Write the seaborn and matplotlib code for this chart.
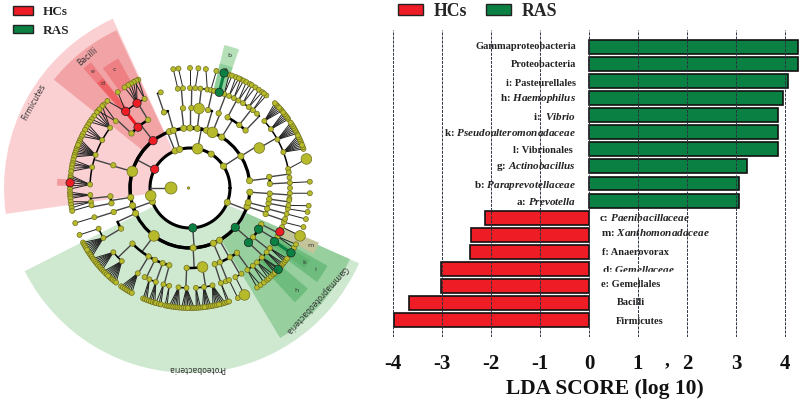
import numpy as np
import pandas as pd
import matplotlib
matplotlib.use("Agg")
import matplotlib.pyplot as plt
from matplotlib.patches import Patch, Rectangle
import seaborn as sns

# ---------- LDA bars ----------
taxa = ["Gammaproteobacteria", "Proteobacteria", "i: Pasteurellales", r"h: $\mathit{Haemophilus}$",
        r"i:  $\mathit{Vibrio}$", r"k: $\mathit{Pseudoalteromonadaceae}$", "l: Vibrionales ",
        r"g: $\mathit{Actinobacillus}$", r"b: $\mathit{Paraprevotellaceae}$", r"a: $\mathit{Prevotella}$",
        r"c: $\mathit{Paenibacillaceae}$", r"m: $\mathit{Xanthomonadaceae}$", "f: Anaerovorax",
        r"d: $\mathit{Gemellaceae}$", "e: Gemellales", "Bacilli", "Firmicutes"]
lda = [4.27, 4.26, 4.07, 3.95, 3.86, 3.85, 3.85, 3.22, 3.07, 3.07,
       -2.12, -2.40, -2.42, -3.03, -3.03, -3.67, -3.98]
group = ["RAS"] * 10 + ["HCs"] * 7
neg_label_x = [0.21, 0.24, 0.27, 0.27, 0.25, 0.57, 0.54]
label_shift_rows = [-0.06, 0, 0.12, 0, 0.06, 0, 0.06, 0.03, 0.14, 0.08, -0.03, -0.1, 0.02, 0.07, -0.05, 0, 0.1]
score_ticks = [-4, -3, -2, -1, 0, 1, 2, 3, 4]

# ---------- cladogram (angles in degrees) ----------
ring = {1: 40, 2: 60, 3: 80, 4: 100, 5: 120}
L1 = [152, 112, 105, 79, 58, 33, 339, 274, 200, 191]
L2 = [(152, [128, 164, 189]), (105, [106]), (112, [110]), (79, [96, 90, 83, 74, 68]),
      (33, [58, 32, 7, 356]), (339, [342, 346]), (274, [233, 273, 293, 299.5, 319]),
      (200, [197, 205])]
L3 = [(128, [121.6, 130.5, 137]), (164, [163.5]), (189, [186, 191]), (197, [197.5]), (205, [210.5]),
      (106, [109]), (96, [95]), (90, [89]), (83, [83.5]), (74, [77]), (68, [69]),
      (58, [62, 52, 46]), (32, [30]), (7, [8, 3]), (356, [356, 352]), (342, [341, 345]), (346, [349]),
      (233, [224, 238.8, 244, 250, 255]), (273, [267.6, 279]), (293, [288]), (299.5, [292, 300, 306]),
      (319, [317, 322, 329, 333])]
L4 = [(130.5, [130, 122]), (121.6, [117]), (137, [138]), (163.5, [143, 151.4, 160.7, 168, 178]),
      (186, [184, 188]), (191, [190]), (197.5, [197]), (210.5, [204, 210]),
      (109, [107]), (95, [97, 94]), (89, [90, 87]), (83.5, [84, 80]), (77, [78, 76]), (69, [73, 70]),
      (62, [67, 64, 61]), (52, [58, 54, 51]), (46, [48]), (30, [42, 36, 29, 21, 11]), (8, [9, 6]), (3, [3, 0]),
      (356, [357, 354]), (352, [353]), (341, [340, 342]), (345, [345]), (349, [348, 350]),
      (224, [220, 227]), (238.8, [238.5]), (244, [243]), (250, [246, 250]), (255, [254.6, 258]),
      (267.6, [263.4, 268]), (279, [273.4, 278, 283]), (288, [288, 291]), (292, [293]), (300, [297, 301]),
      (306, [305, 309]), (317, [312, 316, 320]), (322, [323]), (329, [327.6, 331]), (333, [334, 337])]
L5 = [(130, [133.5, 127]), (122, [116.5, 118, 119.5, 121, 123]), (117, [115.5, 117.5]), (138, [136, 140]),
      (143, [137, 139, 141, 143, 145, 146.5]), (151.4, [148, 149.5, 151, 153, 154.5]),
      (160.7, [156, 157, 158, 159, 160, 161, 162, 163, 164, 165]), (168, [166.5, 168, 169, 170.5, 172]),
      (178, [174, 175, 176, 177.5, 179, 180.5]), (184, [182, 183, 184, 185]), (188, [186.5, 188, 189.5]),
      (190, [191]), (197, [197]), (204, [203]), (210, [207, 208, 209, 210, 211, 212, 213, 214, 215]),
      (220, [216, 217, 218, 219, 220, 221, 222, 223]), (227, [224, 225, 226, 227, 228, 229, 230, 231, 232]),
      (238.5, [235, 236, 237, 238, 239, 240, 241]), (246, [247, 248, 249]),
      (250, [250, 251, 252, 253]), (254.6, [253.5, 255, 256]), (258, [258, 259]),
      (263.4, [260, 261, 262, 263, 264, 265]), (268, [266, 267, 268, 269, 270, 271, 272]),
      (273.4, [273, 274, 275]), (278, [276, 277, 278, 279, 280]), (283, [281, 282, 283, 284, 285, 286, 287]),
      (288, [288, 289]), (293, [293.5]), (297, [297]), (305, [304, 306]), (309, [308, 310]),
      (312, [311, 312.5, 314]), (316, [315, 316, 317.3, 318]),
      (320, [319, 320, 321]), (323, [322, 323, 324]), (327.6, [327.3]), (331, [330, 332]),
      (337, [336.5]), (340, [341]), (345, [345]), (348, [348.5]),
      (350, [351.5]), (357, [357.5]), (3, [3]), (42, [40, 41, 42, 43, 44, 45]), (36, [35, 36, 37, 38, 39]),
      (29, [27, 28, 29, 30, 31, 32, 33]), (21, [19, 20, 21, 22, 23, 24, 25, 26]), (11, [14]),
      (67, [67.5, 66]), (64, [65, 63.5]), (61, [62, 60]), (58, [59, 57]), (54, [55, 53]), (51, [52, 50.5]),
      (97, [98]), (94, [95.5]), (90, [90]), (87, [86]), (80, [82.4]), (78, [77.3]), (73, [73.5]), (70, [71, 69.5])]
red_nodes = [(1, 152), (2, 128), (3, 130.5), (4, 130), (4, 122), (5, 177.5), (4, 334)]
green_nodes = [(1, 274), (2, 319), (3, 317), (3, 329), (4, 327.6), (4, 73), (5, 73.5), (5, 327.3), (5, 317.3)]
big_nodes = [(1, 79), (1, 191), (2, 68), (3, 83.5), (3, 279), (3, 30), (5, 14), (2, 164), (2, 233), (5, 297), (5, 336.5)]
red_edges = [(3, 130.5, 4, 130)]
green_edges = [(4, 73, 5, 73.5), (4, 327.6, 5, 327.3)]

clade_names = ["Firmicutes", "Proteobacteria", "Bacilli", "Gammaproteobacteria"]
clade_from = [114.5, 206.7, 115, 301]
clade_to = [188, 336, 141.5, 336]
clade_inner = [40, 40, 60, 62]
clade_outer = [186, 185, 174, 175]
clade_colour = ["#fbd0d3", "#cfe8d0", "#f2a3a6", "#98cf9f"]
clade_label_theta = [151, 272, 128, 318.5]
clade_label_r = [178, 181, 167, 169]
clade_label_rot = [61, 180, 40, 228]

small_names = ["c", "e", "d", "", "b", "a", "m", "i", "k", "h", "l"]
small_mid = [122.5, 130, 130, 177.5, 73.5, 73.5, 334.5, 327, 327, 316, 316]
small_width = [7, 3.5, 3, 3, 6, 6, 5, 7, 4, 7, 4]
small_inner = [118, 100, 100, 120, 118, 100, 103, 100, 100, 100, 100]
small_outer = [148, 160, 140, 133, 147, 128, 140, 158, 140, 155, 125]
small_colour = ["#ee7f82", "#ee7f82", "#ee6064", "#f29a9c", "#b5e0b8", "#8fd09a", "#c3c49a", "#6fbd7e", "#5fb470", "#6fbd7e", "#5fb470"]
small_label_r = [140, 152, 136, 0, 138, 124, 134, 150, 136, 148, 120]

core_r = [19, 1.5]

RED, GREEN, OLIVE = "#ee1c25", "#0a8143", "#b7ba2b"

sns.set_theme(style="white")
plt.rcParams["font.family"] = ["Liberation Serif", "DejaVu Serif"]
plt.rcParams["axes.unicode_minus"] = False
plt.rcParams["mathtext.fontset"] = "custom"
plt.rcParams["mathtext.rm"] = "Liberation Serif:bold"
plt.rcParams["mathtext.it"] = "Liberation Serif:italic:bold"
plt.rcParams["mathtext.bf"] = "Liberation Serif:bold"

W, H = 800, 404
fig = plt.figure(figsize=(W / 100, H / 100), dpi=100, facecolor="white")

# ---------- bar panel ----------
ax = fig.add_axes([380 / W, 1 - 337 / H, 420 / W, 307 / H])
df = pd.DataFrame({"taxon": taxa, "score": lda, "group": group})
sns.barplot(data=df, x="score", y="taxon", hue="group", dodge=False, palette={"RAS": GREEN, "HCs": RED},
            saturation=1, width=0.82, edgecolor="#111111", linewidth=1.2, legend=False, ax=ax)
ax.set_xlim((380 - 589) / 49, (800 - 589) / 49)
ax.set_ylim(17, -1)
sns.despine(ax=ax, left=True, bottom=True, top=True, right=True)
ax.set_axisbelow(False)
ax.grid(axis="x", color="#2b3440", lw=0.7, ls=(0, (3, 1.2)))
ax.grid(axis="y", visible=False)
ax.set_yticks([])
ax.set_ylabel("")
ax.set_xticks(score_ticks)
ax.tick_params(axis="x", length=0, pad=12)
for t in ax.get_xticklabels():
    t.set_fontsize(15)
    t.set_fontweight("bold")
    t.set_color("#111111")
ax.set_xlabel("LDA SCORE (log 10)", fontsize=15.5, fontweight="bold", color="#111111")
ax.xaxis.set_label_coords((605 - 380) / 420, -(389 - 337) / 307)
ax.xaxis.label.set_va("center")
ax.text(1.59, 18.65, ",", fontsize=14, fontweight="bold", ha="center", va="baseline", color="#111111", clip_on=False)

for i, (name, val) in enumerate(zip(taxa, lda)):
    size = 8.0 if "mathit" in name else 7.5
    y = i + label_shift_rows[i]
    if val > 0:
        ax.text(-0.27, y, name, ha="right", va="center", fontsize=size, fontweight="bold", color="#222222", zorder=5)
    else:
        ax.text(neg_label_x[i - 10], y, name, ha="left", va="center", fontsize=size, fontweight="bold",
                color="#222222", zorder=5)
ax.add_patch(Rectangle((0.2, 13.2), 1.75, 0.25, color="white", zorder=6))

# ---------- cladogram panel ----------
pol = fig.add_axes([0, (H - 378) / H, 380 / W, 380 / H], projection="polar")
pol.set_rlim(0, 190)
pol.axis("off")
rad = np.deg2rad

for a, b, ri, ro, c in zip(clade_from, clade_to, clade_inner, clade_outer, clade_colour):
    pol.bar(rad((a + b) / 2), ro - ri, width=rad(b - a), bottom=ri, color=c, lw=0, zorder=1)
for m, w, ri, ro, c in zip(small_mid, small_width, small_inner, small_outer, small_colour):
    pol.bar(rad(m), ro - ri, width=rad(w), bottom=ri, color=c, lw=0, zorder=1.2)

sans = ["DejaVu Sans"]
for n, th, r, rot in zip(clade_names, clade_label_theta, clade_label_r, clade_label_rot):
    pol.text(rad(th), r, n, rotation=rot, rotation_mode="anchor", ha="center", va="center",
             fontsize=5.6, color="#333333", family=sans, zorder=6)
for n, th, r in zip(small_names, small_mid, small_label_r):
    pol.text(rad(th), r, n, ha="center", va="center", fontsize=4.6, color="#333333", family=sans, zorder=6)

# root ring and branches
ring_theta = np.linspace(0, 2 * np.pi, 361)
pol.plot(ring_theta, np.full(361, ring[1]), color="black", lw=2.2, zorder=2)
pol.plot([rad(180), rad(180)], [core_r[0], ring[1]], color="#444444", lw=1.0, zorder=2)
arc_lw = {2: 2.3, 3: 1.8, 4: 1.1}
nodes = [(1, a) for a in L1]
for lev, groups in [(2, L2), (3, L3), (4, L4), (5, L5)]:
    for parent, kids in groups:
        r0, r1 = ring[lev - 1], ring[lev]
        if lev < 5:
            pol.plot([rad(parent)] * 2, [r0, r1], color="#444444", lw=1.0, zorder=2)
            lo, hi = min(kids + [parent]), max(kids + [parent])
            if hi - lo > 0:
                pol.plot(np.deg2rad(np.linspace(lo, hi, 40)), np.full(40, r1), color="black", lw=arc_lw[lev], zorder=2)
        else:
            for k in kids:
                pol.plot([rad(parent), rad(k)], [r0, r1], color="#222222", lw=0.7, zorder=2)
        nodes += [(lev, k) for k in kids]
for l0, a0, l1, a1 in red_edges:
    pol.plot([rad(a0), rad(a1)], [ring[l0], ring[l1]], color=RED, lw=2.2, zorder=3)
for l0, a0, l1, a1 in green_edges:
    pol.plot([rad(a0), rad(a1)], [ring[l0], ring[l1]], color=GREEN, lw=2.2, zorder=3)

size_by_level = {1: 20, 2: 20, 3: 15, 4: 13, 5: 13}
rows = []
for lev, a in nodes:
    state = "red" if (lev, a) in red_nodes else "green" if (lev, a) in green_nodes else "none"
    s = 58 if (lev, a) in big_nodes else size_by_level[lev]
    if state != "none":
        s = 36
    rows.append((rad(a), ring[lev], state, s))
for r, s in zip(core_r, [75, 3]):
    rows.append((np.pi, r, "none", s))
nd = pd.DataFrame(rows, columns=["theta", "r", "state", "s"]).sort_values("s")
for state, c, ec in [("none", OLIVE, "#6f7020"), ("red", RED, "#222222"), ("green", GREEN, "#222222")]:
    sub = nd[nd.state == state]
    sns.scatterplot(x=sub.theta.values, y=sub.r.values, s=sub.s.values, color=c, edgecolor=ec, linewidth=0.5,
                    ax=pol, zorder=4, legend=False)
pol.set_rlim(0, 190)
pol.axis("off")

# ---------- legends ----------
h = [Patch(facecolor=RED, edgecolor="#222222", lw=1), Patch(facecolor=GREEN, edgecolor="#222222", lw=1)]
fig.legend(handles=h, labels=["HCs", "RAS"], ncol=2, loc="upper left", bbox_to_anchor=(398 / W, 1 - 3 / H),
           frameon=False, prop={"weight": "bold", "size": 12.8}, handlelength=1.42, handleheight=0.6,
           handletextpad=0.6, columnspacing=1.05, borderpad=0, borderaxespad=0)
fig.legend(handles=h, labels=["HCs", "RAS"], ncol=1, loc="upper left", bbox_to_anchor=(13 / W, 1 - 6 / H),
           frameon=False, prop={"weight": "bold", "size": 9.5}, handlelength=1.5, handleheight=0.62,
           handletextpad=0.75, labelspacing=0.5, borderpad=0, borderaxespad=0)

fig.savefig("out.png", dpi=100, facecolor="white")
